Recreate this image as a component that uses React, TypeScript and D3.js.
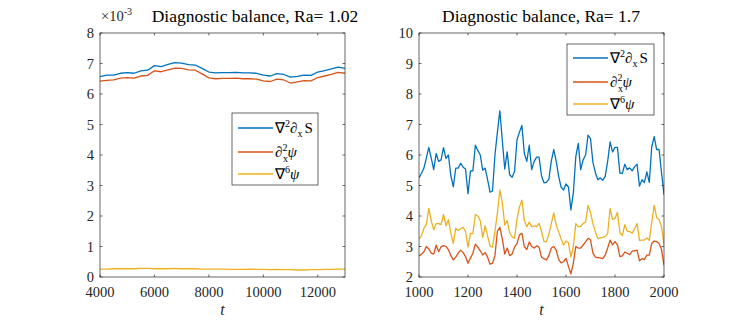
import React from "react";
import * as d3 from "d3";

// left panel: Ra = 1.02, values in units of 1e-3, sampled every 250 in t
const leftT0 = 4000;
const leftDt = 250;
const leftLap = [6.57, 6.62, 6.62, 6.68, 6.7, 6.68, 6.76, 6.78, 6.93, 6.9, 6.97, 7.03, 7.01, 6.96, 6.95, 6.84, 6.72, 6.69, 6.7, 6.7, 6.71, 6.69, 6.69, 6.68, 6.62, 6.59, 6.67, 6.64, 6.55, 6.58, 6.62, 6.61, 6.72, 6.77, 6.82, 6.88, 6.84];
const leftDxx = [6.42, 6.45, 6.46, 6.52, 6.54, 6.52, 6.59, 6.61, 6.76, 6.73, 6.79, 6.85, 6.84, 6.79, 6.78, 6.66, 6.53, 6.5, 6.51, 6.51, 6.52, 6.5, 6.5, 6.49, 6.43, 6.41, 6.49, 6.46, 6.36, 6.4, 6.44, 6.43, 6.54, 6.59, 6.64, 6.71, 6.68];
const leftNab6 = [0.26, 0.26, 0.27, 0.27, 0.27, 0.27, 0.28, 0.28, 0.27, 0.27, 0.27, 0.28, 0.27, 0.27, 0.27, 0.26, 0.26, 0.26, 0.26, 0.25, 0.25, 0.25, 0.26, 0.25, 0.25, 0.24, 0.25, 0.24, 0.24, 0.23, 0.23, 0.24, 0.24, 0.25, 0.25, 0.26, 0.26];
const leftXTicks = [4000, 6000, 8000, 10000, 12000];
const leftYTicks = [0, 1, 2, 3, 4, 5, 6, 7, 8];

// right panel: Ra = 1.7, sampled every 10 in t
const rightT0 = 1000;
const rightDt = 10;
const rightLap = [
  5.25, 5.4, 5.57, 5.9, 6.25, 5.9, 5.52, 6.05, 5.79, 5.84,
  6.24, 5.89, 6.0, 5.32, 4.96, 5.57, 5.57, 5.73, 5.6, 5.54,
  4.73, 5.48, 5.48, 6.32, 6.15, 6.0, 5.5, 5.57, 5.19, 4.78,
  4.82, 6.0, 6.75, 7.45, 6.48, 5.54, 6.1, 5.35, 5.27, 5.46,
  6.5, 6.75, 6.97, 6.05, 5.79, 6.32, 5.52, 5.79, 5.93, 5.93,
  5.32, 5.09, 5.1, 5.2, 5.8, 6.18, 5.8, 5.3, 4.95, 4.85,
  5.05, 4.95, 4.2, 4.76, 5.95, 6.38, 5.52, 5.84, 6.0, 6.65,
  6.54, 5.75, 5.42, 5.19, 5.25, 5.17, 5.3, 5.79, 6.43, 6.1,
  6.25, 6.25, 5.41, 5.4, 5.7, 5.52, 5.58, 5.48, 5.62, 5.7,
  4.98, 5.19, 5.1, 5.45, 5.1, 6.27, 6.6, 6.18, 6.18, 5.41,
  4.7,
];
const rightDxx = [
  2.69, 2.75, 2.83, 3.0, 2.92, 2.78, 2.75, 3.04, 2.83, 2.99,
  3.03, 3.0, 2.9, 2.7, 2.56, 2.65, 2.78, 2.88, 2.8, 2.67,
  2.45, 2.62, 2.78, 3.08, 2.98, 2.86, 2.72, 2.8, 2.65, 2.42,
  2.45, 2.7, 3.5, 3.63, 3.25, 2.75, 2.95, 2.7, 2.75, 2.98,
  3.1, 3.38, 3.43, 3.0, 2.9, 3.15, 3.0, 2.95, 3.02, 2.98,
  2.65, 2.6, 2.56, 2.7, 2.95, 3.0, 2.88, 2.58, 2.46, 2.5,
  2.61, 2.35, 2.1, 2.45, 3.0, 2.95, 2.95, 3.05, 3.15, 3.27,
  3.22, 2.78, 2.65, 2.64, 2.63, 2.6, 2.72, 2.95, 3.21, 3.05,
  3.16, 3.05, 2.67, 2.69, 2.82, 2.78, 2.73, 2.85, 2.86, 2.88,
  2.53, 2.6, 2.57, 2.72, 2.72, 3.1, 3.18, 3.16, 3.1, 2.9,
  2.38,
];
const rightNab6 = [
  3.25, 3.35, 3.6, 3.72, 4.25, 3.85, 3.55, 3.75, 3.75, 3.72,
  4.05, 3.68, 3.88, 3.45, 3.1, 3.6, 3.52, 3.58, 3.63, 3.5,
  2.98, 3.43, 3.42, 4.05, 4.0, 3.85, 3.3, 3.68, 3.35, 3.02,
  2.98, 3.5, 4.1, 4.85, 4.45, 3.7, 3.85, 3.45, 3.32, 3.27,
  3.9, 4.3, 4.52, 3.85, 3.65, 3.8, 3.65, 3.68, 3.65, 3.76,
  3.5, 3.16, 3.16, 3.4, 3.75, 4.1, 3.7, 3.48, 3.25, 3.05,
  3.18, 3.12, 2.65, 3.0, 3.75, 3.65, 3.65, 3.76, 3.8, 4.35,
  4.12, 3.75, 3.48, 3.26, 3.28, 3.3, 3.33, 3.42, 4.25, 3.89,
  3.92, 4.12, 3.45, 3.36, 3.72, 3.5, 3.49, 3.44, 3.58, 3.75,
  3.2, 3.21, 3.21, 3.28, 3.2, 3.8, 4.35, 3.95, 3.88, 3.65,
  3.05,
];
const rightXTicks = [1000, 1200, 1400, 1600, 1800, 2000];
const rightYTicks = [2, 3, 4, 5, 6, 7, 8, 9, 10];

const colors = ["#0072BD", "#D95319", "#EDB120"];
const serif = "'Liberation Serif', 'Times New Roman', serif";

const H = 324;
const top = 33;
const bottom = 277;

type PanelProps = {
  x0: number;
  x1: number;
  t0: number;
  dt: number;
  series: number[][];
  xDomain: [number, number];
  yDomain: [number, number];
  xTicks: number[];
  yTicks: number[];
  title: string;
  titleX: number;
  exponent?: boolean;
  legend: { x: number; y: number; w: number; rows: number[] };
};

const LegendLabel = ({ i, x, y }: { i: number; x: number; y: number }) => {
  if (i === 0)
    return (
      <text x={x} y={y} fontFamily={serif} fontSize={15} fill="#000">
        ∇<tspan dy={-6} fontSize={10}>2</tspan>
        <tspan dy={6}>∂</tspan>
        <tspan dy={4} fontSize={10}>x</tspan>
        <tspan dy={-4} dx={2}>S</tspan>
      </text>
    );
  if (i === 1)
    return (
      <text x={x} y={y} fontFamily={serif} fontSize={15} fill="#000">
        <tspan fontStyle="italic">∂</tspan>
        <tspan dy={-6} fontSize={10}>2</tspan>
        <tspan dy={6} fontStyle="italic">ψ</tspan>
        <tspan x={x + 8} dy={5} fontSize={10}>x</tspan>
      </text>
    );
  return (
    <text x={x} y={y} fontFamily={serif} fontSize={15} fill="#000">
      ∇<tspan dy={-6} fontSize={10}>6</tspan>
      <tspan dy={6} fontStyle="italic">ψ</tspan>
    </text>
  );
};

const Panel = (p: PanelProps) => {
  const x = d3.scaleLinear().domain(p.xDomain).range([p.x0, p.x1]);
  const y = d3.scaleLinear().domain(p.yDomain).range([bottom, top]);
  const line = d3
    .line<number>()
    .x((_, i) => x(p.t0 + i * p.dt))
    .y((v) => y(v));
  const tl = 2.5;
  const ax = "#262626";
  return (
    <g>
      <defs>
        <clipPath id={`clip${p.x0}`}>
          <rect x={p.x0} y={top} width={p.x1 - p.x0} height={bottom - top} />
        </clipPath>
      </defs>
      <g clipPath={`url(#clip${p.x0})`}>
        {p.series.map((s, i) => (
          <path key={i} d={line(s) || ""} fill="none" stroke={colors[i]} strokeWidth={1.3} strokeLinejoin="round" />
        ))}
      </g>
      <rect x={p.x0} y={top} width={p.x1 - p.x0} height={bottom - top} fill="none" stroke={ax} strokeWidth={0.7} />
      {p.xTicks.map((t) => (
        <g key={t}>
          <line x1={x(t)} x2={x(t)} y1={bottom} y2={bottom - tl} stroke={ax} strokeWidth={0.7} />
          <line x1={x(t)} x2={x(t)} y1={top} y2={top + tl} stroke={ax} strokeWidth={0.7} />
          <text x={x(t)} y={297} textAnchor="middle" fontFamily={serif} fontSize={14.5} fill="#262626">
            {t}
          </text>
        </g>
      ))}
      {p.yTicks.map((t) => (
        <g key={t}>
          <line x1={p.x0} x2={p.x0 + tl} y1={y(t)} y2={y(t)} stroke={ax} strokeWidth={0.7} />
          <line x1={p.x1} x2={p.x1 - tl} y1={y(t)} y2={y(t)} stroke={ax} strokeWidth={0.7} />
          <text x={p.x0 - 6} y={y(t) + 5} textAnchor="end" fontFamily={serif} fontSize={14.5} fill="#262626">
            {t}
          </text>
        </g>
      ))}
      <text x={(p.x0 + p.x1) / 2} y={315} textAnchor="middle" fontFamily={serif} fontStyle="italic" fontSize={16} fill="#262626">
        t
      </text>
      <text x={p.titleX} y={22} textAnchor="middle" fontFamily={serif} fontSize={17.5} fill="#000">
        {p.title}
      </text>
      {p.exponent && (
        <text x={p.x0 + 1} y={21} fontFamily={serif} fontSize={14.5} fill="#262626">
          ×10<tspan dy={-6} fontSize={10}>-3</tspan>
        </text>
      )}
      <rect x={p.legend.x} y={p.legend.y} width={p.legend.w} height={p.legend.rows[2] - p.legend.y + 11} fill="#fff" stroke={ax} strokeWidth={0.7} />
      {p.legend.rows.map((ry, i) => (
        <g key={i}>
          <line x1={p.legend.x + 6} x2={p.legend.x + 41} y1={ry} y2={ry} stroke={colors[i]} strokeWidth={1.3} />
          <LegendLabel i={i} x={p.legend.x + 43} y={ry + 5} />
        </g>
      ))}
    </g>
  );
};

export default function App() {
  return (
    <svg width={747} height={H} style={{ display: "block", position: "absolute", left: 0, top: 0 }}>
      <rect width={747} height={H} fill="#fff" />
      <Panel
        x0={100}
        x1={345}
        t0={leftT0}
        dt={leftDt}
        series={[leftLap, leftDxx, leftNab6]}
        xDomain={[4000, 13000]}
        yDomain={[0, 8]}
        xTicks={leftXTicks}
        yTicks={leftYTicks}
        title="Diagnostic balance, Ra= 1.02"
        titleX={255}
        exponent
        legend={{ x: 232, y: 113, w: 86, rows: [128, 152, 174] }}
      />
      <Panel
        x0={419}
        x1={664}
        t0={rightT0}
        dt={rightDt}
        series={[rightLap, rightDxx, rightNab6]}
        xDomain={[1000, 2000]}
        yDomain={[2, 10]}
        xTicks={rightXTicks}
        yTicks={rightYTicks}
        title="Diagnostic balance, Ra= 1.7"
        titleX={541}
        legend={{ x: 567, y: 44, w: 87, rows: [58, 82, 104] }}
      />
    </svg>
  );
}
